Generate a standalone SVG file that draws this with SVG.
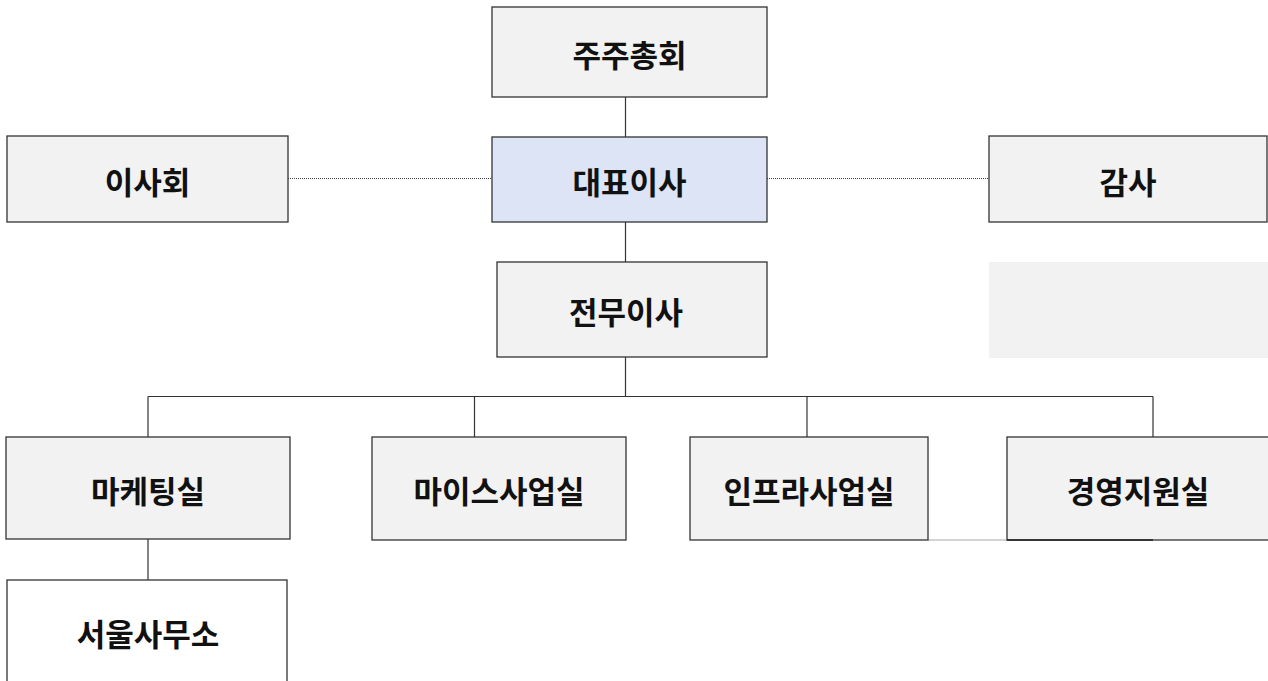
<svg xmlns="http://www.w3.org/2000/svg" width="1268" height="681" viewBox="0 0 1268 681">
<style>
.box{fill:#f2f2f2;stroke:#333;stroke-width:1.3}
.blue{fill:#dde4f6}
.white{fill:#fff}
.lbl{font-family:"Noto Sans CJK KR","Noto Sans",sans-serif;font-weight:bold;font-size:31px;fill:#111;text-anchor:middle;dominant-baseline:central}
.ln{stroke:#333;stroke-width:1.2;fill:none}
.dot{stroke:#444;stroke-width:1;stroke-dasharray:1 1;fill:none}
</style>
<rect width="1268" height="681" fill="#fff"/>
<g id="connectors">
<line class="ln" x1="625.5" y1="97" x2="625.5" y2="137"/>
<line class="ln" x1="625.5" y1="222" x2="625.5" y2="262"/>
<line class="ln" x1="625.5" y1="357" x2="625.5" y2="396.5"/>
<line class="ln" x1="148" y1="396.5" x2="1153" y2="396.5"/>
<line class="ln" x1="148" y1="396.5" x2="148" y2="437"/>
<line class="ln" x1="474.5" y1="396.5" x2="474.5" y2="437"/>
<line class="ln" x1="807" y1="396.5" x2="807" y2="437"/>
<line class="ln" x1="1153" y1="396.5" x2="1153" y2="437"/>
<line class="ln" x1="148" y1="539" x2="148" y2="580"/>
<line class="dot" x1="288" y1="178.5" x2="492" y2="178.5"/>
<line class="dot" x1="767" y1="178.5" x2="989" y2="178.5"/>
<line x1="928" y1="540" x2="1153" y2="540" stroke="#c4c4c4" stroke-width="1.5"/>
</g>
<g id="n-shareholders"><rect class="box" x="492" y="7" width="275" height="90"/><text class="lbl" x="629.5" y="53">주주총회</text></g>
<g id="n-board"><rect class="box" x="7" y="136" width="281" height="86"/><text class="lbl" x="147.5" y="180">이사회</text></g>
<g id="n-ceo"><rect class="box blue" x="492" y="137" width="275" height="85"/><text class="lbl" x="629.5" y="180">대표이사</text></g>
<g id="n-audit"><rect class="box" x="989" y="136" width="278" height="86"/><text class="lbl" x="1128" y="180">감사</text></g>
<g id="n-blank"><rect x="989" y="262" width="279" height="96" fill="#f2f2f2"/></g>
<g id="n-director"><rect class="box" x="497" y="262" width="270" height="95"/><text class="lbl" x="626" y="310">전무이사</text></g>
<g id="n-marketing"><rect class="box" x="6" y="437" width="284" height="102"/><text class="lbl" x="148" y="489">마케팅실</text></g>
<g id="n-mice"><rect class="box" x="372" y="437" width="254" height="103"/><text class="lbl" x="499" y="489">마이스사업실</text></g>
<g id="n-infra"><rect class="box" x="690" y="437" width="238" height="103"/><text class="lbl" x="809" y="489">인프라사업실</text></g>
<g id="n-management"><rect class="box" x="1007" y="437" width="262" height="103"/><line x1="1007" y1="540" x2="1153" y2="540" stroke="#222" stroke-width="1.6"/><text class="lbl" x="1138" y="489">경영지원실</text></g>
<g id="n-seoul"><rect class="box white" x="7" y="580" width="280" height="104"/><text class="lbl" x="148" y="632">서울사무소</text></g>
</svg>
